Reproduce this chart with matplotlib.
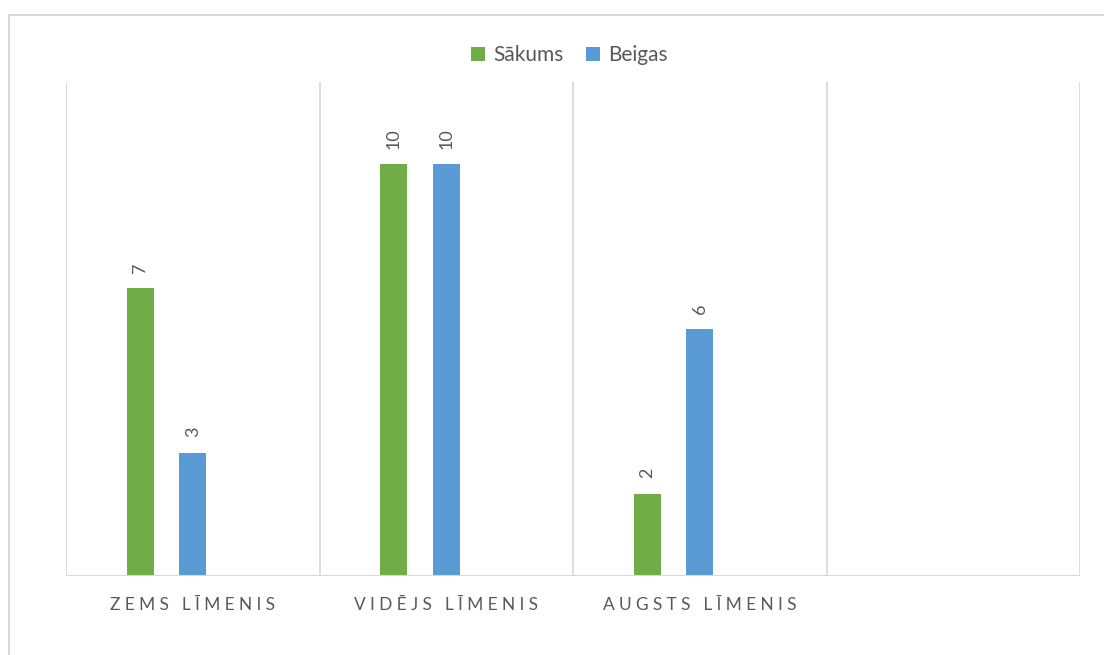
import matplotlib.pyplot as plt
from matplotlib.patches import Rectangle

# data
categories = ['ZEMS LĪMENIS', 'VIDĒJS LĪMENIS', 'AUGSTS LĪMENIS', '']
sakums = [7, 10, 2]
beigas = [3, 10, 6]
series_names = ['Sākums', 'Beigas']

green = '#70AD47'
blue = '#5B9BD5'
grid_col = '#D9D9D9'
text_col = '#595959'

plt.rcParams['font.family'] = ['Lato', 'DejaVu Sans']

fig = plt.figure(figsize=(11.04, 6.55), dpi=100)
ax = fig.add_axes([66 / 1104, 1 - 576 / 655, 1014 / 1104, 494 / 655])

# outer chart border
fig.patches.append(Rectangle((9 / 1104, -0.1), 1.2, 1.1 - 15 / 655,
                             transform=fig.transFigure, fill=False,
                             edgecolor=grid_col, lw=1.5))

w = 0.107
step = 0.207
x_s = [i - step for i in range(len(sakums))]
x_b = [i for i in range(len(beigas))]
b1 = ax.bar(x_s, sakums, width=w, color=green, label=series_names[0])
b2 = ax.bar(x_b, beigas, width=w, color=blue, label=series_names[1])

for bars in (b1, b2):
    for rect in bars:
        ax.annotate(str(int(rect.get_height())),
                    (rect.get_x() + rect.get_width() / 2, rect.get_height()),
                    xytext=(0, 11), textcoords='offset points',
                    rotation=90, ha='center', va='bottom',
                    fontsize=13, color=text_col)

ax.set_xlim(-0.5, len(categories) - 0.5)
ax.set_ylim(0, 12)

# vertical separators between categories
for i in range(len(categories) + 1):
    ax.axvline(i - 0.5, color=grid_col, lw=1.3, zorder=0)
ax.axhline(0, color=grid_col, lw=1.5, zorder=3)

for s in ax.spines.values():
    s.set_visible(False)
ax.set_yticks([])
ax.set_xticks(range(len(categories)))
spaced = ['\u2009\u2009'.join(c) for c in categories]
ax.set_xticklabels(spaced, fontsize=12.5, color=text_col)
ax.tick_params(axis='x', length=0, pad=15)

fig.legend(loc='center', bbox_to_anchor=(569.5 / 1104, 1 - 55 / 655), ncol=2,
           frameon=False, fontsize=15, handlelength=0.65, handleheight=0.65,
           handletextpad=0.4, columnspacing=1.1, labelcolor=text_col)

fig.savefig('out.png', dpi=100)
